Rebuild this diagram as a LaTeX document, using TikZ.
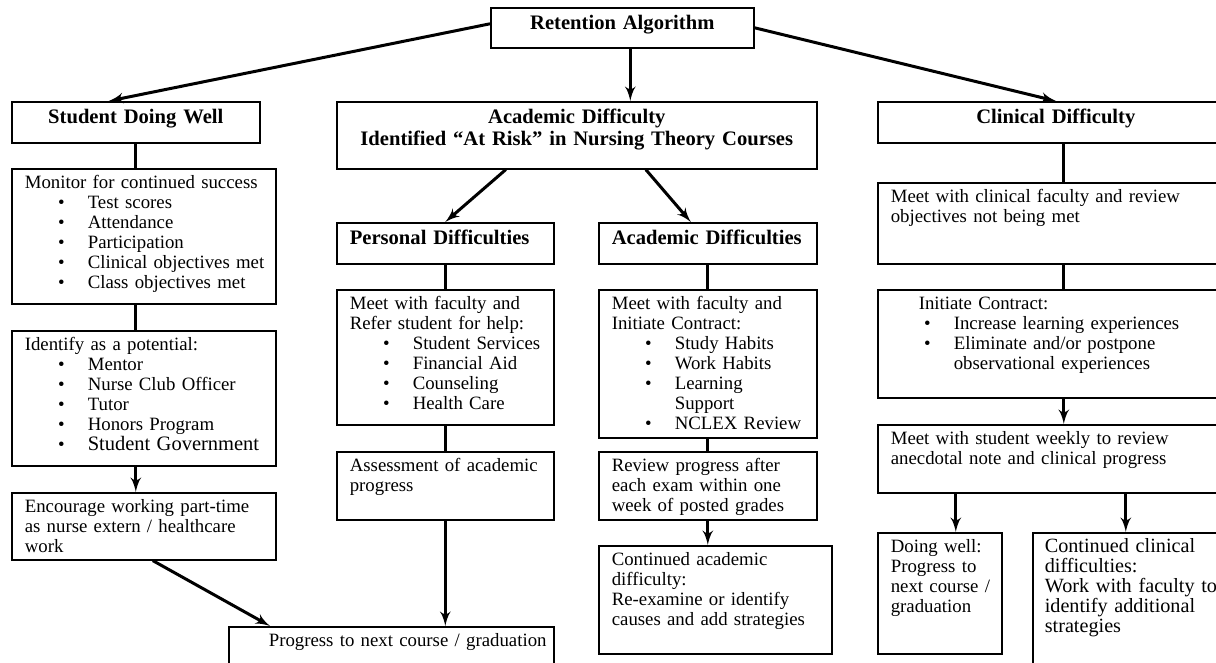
\documentclass[tikz,border=0pt]{standalone}
\usepackage{fontspec}
\setmainfont{Liberation Serif}
\usetikzlibrary{arrows}

\newcommand\txtsize{\fontsize{9.4}{10}\selectfont}
\newcommand\bigsize{\fontsize{10.1}{10}\selectfont}
\newcommand\headsize{\fontsize{10.3}{11}\selectfont\bfseries}
\newenvironment{dotlist}{\begin{list}{\textbullet}{%
  \setlength{\leftmargin}{31.5pt}\setlength{\labelwidth}{10pt}%
  \setlength{\labelsep}{11.6pt}\setlength{\rightmargin}{-6pt}%
  \setlength{\topsep}{0pt}\setlength{\partopsep}{0pt}%
  \setlength{\itemsep}{0pt}\setlength{\parsep}{0pt}}}{\end{list}}

\tikzstyle{box} = [rectangle, draw, line width=0.8pt, anchor=north west,
  inner xsep=6.5pt, inner ysep=2pt, text height=8pt, align=left, font=\txtsize]
\tikzstyle{head} = [box, text height=9pt, font=\headsize]
\tikzstyle{line} = [draw, line width=1.5pt]
\tikzstyle{flow} = [line, -latex']

\begin{document}
\begin{tikzpicture}[x=0.5pt, y=-0.5pt]
    \useasboundingbox (0,0) rectangle (1216,663);
    \clip (0,0) rectangle (1216,663);
    \fill[white] (0,0) rectangle (1216,663);

    % top row
    \node[head, align=center, text width=118.5pt, text depth=7pt] (ret) at (490,7) {Retention Algorithm};
    \node[head, align=center, text width=111pt, text depth=7.5pt] (well) at (11,101) {Student Doing Well};
    \node[head, align=center, text width=227pt, text depth=20.5pt] (acad) at (336,101) {Academic Difficulty\\Identified ``At Risk'' in Nursing Theory Courses};
    \node[head, align=center, text width=165pt, text depth=7.5pt] (clin) at (877,101) {Clinical Difficulty};

    % doing well column
    \node[box, text width=119pt, text depth=55.5pt] (monitor) at (11,168) {Monitor for continued success
      \begin{dotlist}\item Test scores \item Attendance \item Participation
      \item Clinical objectives met \item Class objectives met\end{dotlist}};
    \node[box, text width=119pt, text depth=55.5pt] (identify) at (11,330) {Identify as a potential:
      \begin{dotlist}\item Mentor \item Nurse Club Officer \item Tutor
      \item Honors Program \item {\fontsize{10.25}{10}\selectfont Student Government}\end{dotlist}};
    \node[box, text width=119pt, text depth=21.5pt] (encourage) at (11,492) {Encourage working part-time\\as nurse extern / healthcare\\work};
    \node[box, text width=149.5pt, text depth=28pt] (progress) at (228,626) {\hspace*{13.5pt}\mbox{Progress to next course / graduation}};

    % academic column
    \node[head, text width=95.5pt, text depth=7.5pt] (pers) at (336,222) {Personal~Difficulties};
    \node[head, text width=96pt, text depth=7.5pt] (acads) at (598,222) {Academic~Difficulties};
    \node[box, text width=95.5pt, text depth=55.5pt] (pmeet) at (336,289) {Meet with faculty and\\Refer student for help:
      \begin{dotlist}\item Student Services \item Financial Aid \item Counseling
      \item Health Care\end{dotlist}};
    \node[box, text width=96pt, text depth=62pt] (ameet) at (598,289) {Meet with faculty and\\Initiate Contract:
      \begin{dotlist}\item Study Habits \item Work Habits \item Learning\\Support
      \item NCLEX Review\end{dotlist}};
    \node[box, text width=95.5pt, text depth=22pt] (assess) at (336,451) {Assessment of academic\\progress};
    \node[box, text width=96pt, text depth=22pt] (review) at (598,451) {Review progress after\\each exam within one\\week of posted grades};
    \node[box, text width=103.5pt, text depth=42pt] (cont) at (598,545) {Continued academic\\difficulty:\\Re-examine or identify\\causes and add strategies};

    % clinical column
    \node[box, text width=165pt, text depth=28.5pt] (cmeet) at (877,182) {Meet with clinical faculty and review\\objectives not being met};
    \node[box, text width=165pt, text depth=42pt] (cinit) at (877,289) {\hspace*{14pt}Initiate Contract:
      \begin{dotlist}\item Increase learning experiences
      \item Eliminate and/or postpone\\observational experiences\end{dotlist}};
    \node[box, text width=165pt, text depth=22pt] (weekly) at (877,424) {Meet with student weekly to review\\anecdotal note and clinical progress};
    \node[box, text width=49pt, text depth=48.5pt] (dwell) at (877,532) {Doing well:\\Progress to\\\mbox{next course /}\\graduation};
    \node[box, font=\bigsize, inner xsep=6pt, text width=92pt, text depth=73pt] (cclin) at (1032,532) {Continued clinical\\difficulties:\\\mbox{Work with faculty to}\\identify additional\\strategies};

    % connectors
    \path[flow] ([yshift=2pt]ret.west) -- ([xshift=-13.5pt]well.north);
    \path[flow] (ret.east) -- (clin.north);
    \path[flow] ([xshift=4pt]ret.south) -- ([xshift=4pt]ret.south |- acad.north);
    \path[flow] ([xshift=-35.5pt]acad.south) -- (pers.north);
    \path[flow] ([xshift=34.5pt]acad.south) -- ([xshift=-8.5pt]acads.north);

    \path[line] (well.south) -- (well.south |- monitor.north);
    \path[line] (well.south |- monitor.south) -- (well.south |- identify.north);
    \path[flow] (well.south |- identify.south) -- (well.south |- encourage.north);
    \path[flow] ([xshift=4.5pt]encourage.south) -- ([xshift=21pt]progress.north west);

    \path[line] (pers.south) -- (pmeet.north);
    \path[line] (pmeet.south) -- (assess.north);
    \path[flow] (assess.south) -- (assess.south |- progress.north);
    \path[line] (acads.south) -- (acads.south |- ameet.north);
    \path[line] (ameet.south) -- (review.north);
    \path[flow] (review.south) -- (review.south |- cont.north);

    \path[line] ([xshift=4pt]clin.south) -- ([xshift=4pt]clin.south |- cmeet.north);
    \path[line] ([xshift=4pt]clin.south |- cmeet.south) -- ([xshift=4pt]clin.south |- cinit.north);
    \path[flow] ([xshift=4pt]clin.south |- cinit.south) -- ([xshift=4pt]clin.south |- weekly.north);
    \path[flow] ([xshift=8pt]dwell.north |- weekly.south) -- ([xshift=8pt]dwell.north);
    \path[flow] ([xshift=-5.5pt]cclin.north |- weekly.south) -- ([xshift=-5.5pt]cclin.north);
\end{tikzpicture}
\end{document}
